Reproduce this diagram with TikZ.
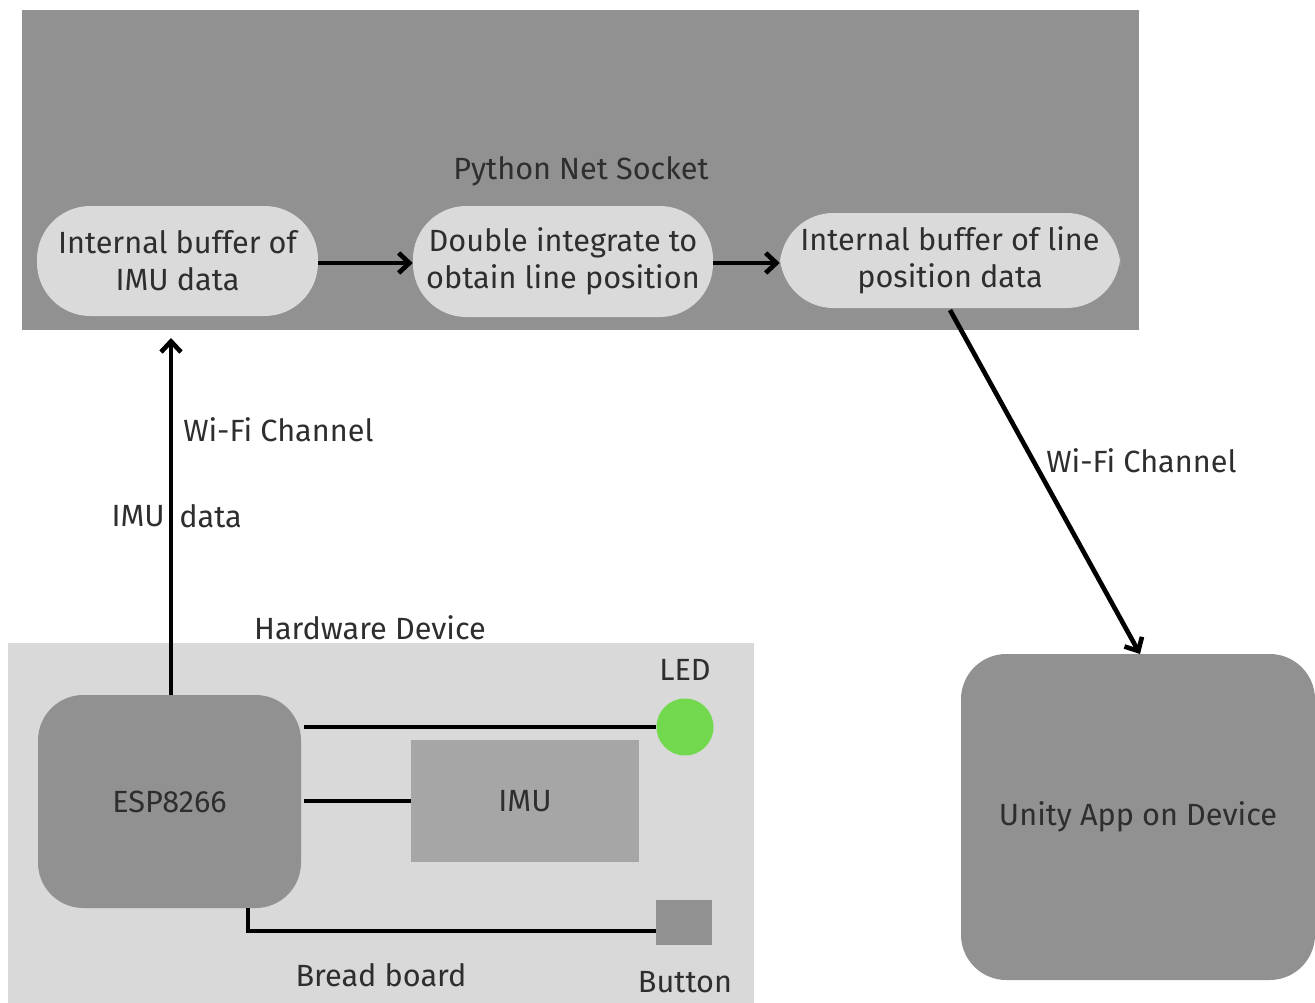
\documentclass[tikz,border=0pt]{standalone}
\usepackage{fontspec}
\setmainfont{Fira Sans}
\usetikzlibrary{arrows.meta}
\definecolor{dkgray}{HTML}{919191}
\definecolor{ltgray}{HTML}{D9D9D9}
\definecolor{pillgray}{HTML}{DADADA}
\definecolor{imugray}{HTML}{A6A6A6}
\definecolor{ledgreen}{HTML}{72D94E}
\definecolor{txt}{HTML}{2E2E2E}
\tikzset{
  lbl/.style={text=txt, font=\fontsize{23}{28}\selectfont, inner sep=0pt},
  pill/.style={fill=pillgray, rounded corners=40pt, align=center, lbl, inner sep=0pt},
  conn/.style={line width=3.5pt, black},
  arr/.style={conn, -{Straight Barb[length=8pt,width=15pt,line width=3.5pt]}},
}
\begin{document}
\begin{tikzpicture}[x=0.75pt,y=-0.75pt]
\useasboundingbox (0,0) rectangle (1315,1003);
\fill[white] (0,0) rectangle (1315,1003);
% Python box
\fill[dkgray] (22,10) rectangle (1139,330);
\node[lbl] (py) at (581,171) {Python Net Socket};
\node[pill, minimum width=281*0.75pt, minimum height=110*0.75pt] (p1) at (177.5,261) {Internal buffer of\\IMU data};
\node[pill, minimum width=300*0.75pt, minimum height=111*0.75pt] (p2) at (563,261.5) {Double integrate to\\obtain line position};
\node[pill, minimum width=340*0.75pt, minimum height=95*0.75pt] (p3) at (950,260.5) {Internal buffer of line\\position data};
\draw[arr] (p1.east |- 0,263) -- (p2.west |- 0,263);
\draw[arr] (p2.east |- 0,263) -- (p3.west |- 0,263);
% hardware box
\fill[ltgray] (8,643) rectangle (754,1003);
\node[lbl] (hw) at (370,628) {Hardware Device};
\node[fill=dkgray, rounded corners=34pt, minimum width=263*0.75pt, minimum height=213*0.75pt, lbl] (esp) at (169.5,801.5) {ESP8266};
\node[fill=ledgreen, circle, minimum size=57*0.75pt, inner sep=0pt] (led) at (685,727) {};
\node[lbl] (ledl) at (685,670) {LED};
\node[fill=imugray, minimum width=228*0.75pt, minimum height=122*0.75pt, lbl] (imu) at (525,801) {IMU};
\node[fill=dkgray, minimum width=56*0.75pt, minimum height=45*0.75pt, inner sep=0pt] (btn) at (684,922.5) {};
\node[lbl] (btnl) at (685,982) {Button};
\node[lbl] (bb) at (381,975) {Bread board};
\coordinate (espb) at (248,908);
\draw[conn] (304,727) -- (led.west);
\draw[conn] (304,801) -- (imu.west);
\draw[conn] (espb) -- (248,931) -- (btn.west |- 0,931);
% vertical arrow
\draw[arr] (esp.north -| 171,0) -- (171,338);
\node[lbl, anchor=west] (wf1) at (183,430) {Wi-Fi Channel};
\node[lbl, anchor=east] (imul1) at (165,516) {IMU};
\node[lbl, anchor=west] (imul2) at (179,516) {data};
% unity
\node[fill=dkgray, rounded corners=34pt, minimum width=354*0.75pt, minimum height=326*0.75pt, lbl] (unity) at (1138,817) {Unity App on Device};
\draw[arr] (950,310) -- (1140,654);
\node[lbl, anchor=west] (wf2) at (1046,461) {Wi-Fi Channel};
\end{tikzpicture}
\end{document}
